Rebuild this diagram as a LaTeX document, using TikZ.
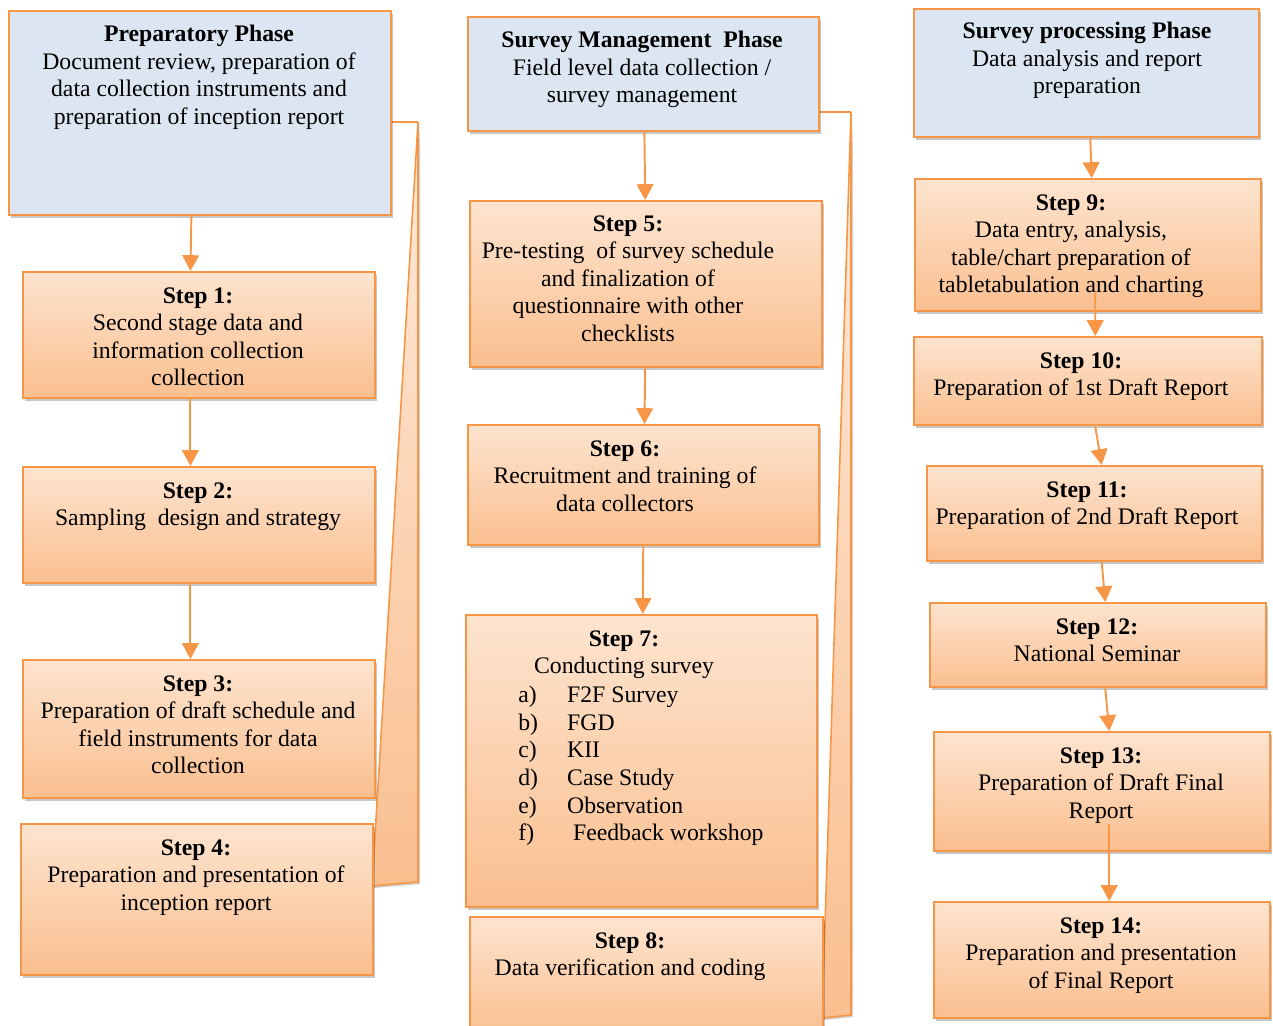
\documentclass[tikz,border=0pt]{standalone}
\usepackage{fontspec}
\setmainfont{Liberation Serif}
\usetikzlibrary{arrows.meta, shadows, backgrounds}

\definecolor{boxline}{HTML}{F79646}
\definecolor{phasefill}{HTML}{DCE6F2}
\definecolor{steptop}{HTML}{FDE4CF}
\definecolor{stepbot}{HTML}{FABF8F}
\definecolor{striptop}{HTML}{FDEBDD}

\newcommand{\li}[1]{\makebox[27.8pt][l]{#1}}

\begin{document}
\begin{tikzpicture}[x=0.02cm, y=-0.02cm,
    phase/.style={draw=boxline, line width=1.4pt, fill=phasefill, anchor=north west, inner sep=0,
        drop shadow={shadow xshift=1.2pt, shadow yshift=-1.6pt, fill=black, opacity=0.22}},
    stepbox/.style={draw=boxline, line width=1.4pt, top color=steptop, bottom color=stepbot, anchor=north west, inner sep=0,
        drop shadow={shadow xshift=1.2pt, shadow yshift=-1.6pt, fill=black, opacity=0.22}},
    txt/.style={align=center, inner sep=0, anchor=north, font=\fontsize{13.5}{15.7}\selectfont},
    flow/.style={draw=boxline, line width=1.1pt, -{Triangle[width=9.5pt, length=9pt]}},
    strip/.style={draw=boxline, line width=0.9pt, top color=striptop, bottom color=stepbot,
        drop shadow={shadow xshift=1.2pt, shadow yshift=-1.2pt, fill=black, opacity=0.18}}]
    \useasboundingbox (0,0) rectangle (1273,1026);

    % Preparatory column
    \node[phase, minimum width=7.64cm, minimum height=4.08cm] (prep) at (8,10) {};
    \node[stepbox, minimum width=7.04cm, minimum height=2.52cm] (s1) at (22,271) {};
    \node[stepbox, minimum width=7.04cm, minimum height=2.32cm] (s2) at (22,466) {};
    \node[stepbox, minimum width=7.04cm, minimum height=2.76cm] (s3) at (22,659) {};
    \node[stepbox, minimum width=7.04cm, minimum height=3.02cm] (s4) at (20,823) {};

    \node[txt] (prept) at (199,25) {\textbf{Preparatory Phase}\\Document review, preparation of\\data collection instruments and\\preparation of inception report};
    \node[txt] (t1) at (198,287) {\textbf{Step 1:}\\Second stage data and\\information collection\\collection};
    \node[txt] (t2) at (198,482) {\textbf{Step 2:}\\Sampling\ \ design and strategy};
    \node[txt] (t3) at (198,675) {\textbf{Step 3:}\\Preparation of draft schedule and\\field instruments for data\\collection};
    \node[txt] (t4) at (196,839) {\textbf{Step 4:}\\Preparation and presentation of\\inception report};

    % Survey management column
    \node[phase, minimum width=7.02cm, minimum height=2.28cm] (mgmt) at (467,16) {};
    \node[stepbox, minimum width=7.04cm, minimum height=3.32cm] (s5) at (469,200) {};
    \node[stepbox, minimum width=7.02cm, minimum height=2.40cm] (s6) at (467,424) {};
    \node[stepbox, minimum width=7.02cm, minimum height=5.84cm] (s7) at (465,614) {};
    \node[stepbox, minimum width=7.06cm, minimum height=2.40cm] (s8) at (469,916) {};

    \node[txt] (mgmtt) at (642,31) {\textbf{Survey Management\ \ Phase}\\Field level data collection /\\survey management};
    \node[txt] (t5) at (628,215) {\textbf{Step 5:}\\Pre-testing\ \ of survey schedule\\and finalization of\\questionnaire with other\\checklists};
    \node[txt] (t6) at (625,440) {\textbf{Step 6:}\\Recruitment and training of\\data collectors};
    \node[txt] (t7) at (624,630) {\textbf{Step 7:}\\Conducting survey};
    \node[txt, align=left, anchor=north west] (t7list) at (518,686) {\li{a)}F2F Survey\\\li{b)}FGD\\\li{c)}KII\\\li{d)}Case Study\\\li{e)}Observation\\\li{f)}\ Feedback workshop};
    \node[txt] (t8) at (630,932) {\textbf{Step 8:}\\Data verification and coding};

    % Survey processing column
    \node[phase, minimum width=6.90cm, minimum height=2.56cm] (proc) at (913,8) {};
    \node[stepbox, minimum width=6.92cm, minimum height=2.64cm] (s9) at (914,178) {};
    \node[stepbox, minimum width=6.96cm, minimum height=1.76cm] (s10) at (913,336) {};
    \node[stepbox, minimum width=6.70cm, minimum height=1.90cm] (s11) at (926,465) {};
    \node[stepbox, minimum width=6.72cm, minimum height=1.68cm] (s12) at (929,602) {};
    \node[stepbox, minimum width=6.72cm, minimum height=2.38cm] (s13) at (933,731) {};
    \node[stepbox, minimum width=6.72cm, minimum height=2.32cm] (s14) at (933,901) {};

    \node[txt] (proct) at (1087,22) {\textbf{Survey processing Phase}\\Data analysis and report\\preparation};
    \node[txt] (t9) at (1071,194) {\textbf{Step 9:}\\Data entry, analysis,\\table/chart preparation of\\tabletabulation and charting};
    \node[txt] (t10) at (1081,352) {\textbf{Step 10:}\\Preparation of 1st Draft Report};
    \node[txt] (t11) at (1087,481) {\textbf{Step 11:}\\Preparation of 2nd Draft Report};
    \node[txt] (t12) at (1097,618) {\textbf{Step 12:}\\National Seminar};
    \node[txt] (t13) at (1101,747) {\textbf{Step 13:}\\Preparation of Draft Final\\Report};
    \node[txt] (t14) at (1101,917) {\textbf{Step 14:}\\Preparation and presentation\\of Final Report};

    % Arrows
    \draw[flow] ([xshift=-5pt]prep.south) -- ([xshift=-5pt]s1.north);
    \draw[flow] ([xshift=-5pt]s1.south) -- ([xshift=-5pt]s2.north);
    \draw[flow] ([xshift=-5pt]s2.south) -- ([xshift=-5pt]s3.north);
    \draw[flow] (mgmt) -- (s5);
    \draw[flow] (s5) -- (s6);
    \draw[flow] (s6) -- (s7);
    \draw[flow] ([xshift=2pt]proc.south) -- ([xshift=2pt]s9.north);
    \draw[flow] ([xshift=4pt,yshift=11pt]s9.south) -- ([xshift=4pt]s10.north);
    \draw[flow] ([xshift=4pt]s10.south) -- ([xshift=4pt]s11.north);
    \draw[flow] ([xshift=4pt]s11.south) -- ([xshift=4pt]s12.north);
    \draw[flow] ([xshift=4pt]s12.south) -- ([xshift=4pt]s13.north);
    \draw[flow] ([xshift=4pt,yshift=16pt]s13.south) -- ([xshift=4pt]s14.north);

    % Brackets behind the boxes
    \coordinate (b1a) at (418,122);
    \coordinate (b1b) at (418,882);
    \coordinate (b1c) at (372,886);
    \coordinate (b2a) at (851,112);
    \coordinate (b2b) at (851,1015);
    \coordinate (b2c) at (822,1018);
    \begin{scope}[on background layer]
        \draw[strip] (b1a) -- (b1b) -- (b1c) -- cycle;
        \draw[boxline, line width=0.9pt] (prep.east |- b1a) -- (b1a);
        \draw[strip] (b2a) -- (b2b) -- (b2c) -- cycle;
        \draw[boxline, line width=0.9pt] (mgmt.east |- b2a) -- (b2a);
    \end{scope}
\end{tikzpicture}
\end{document}
